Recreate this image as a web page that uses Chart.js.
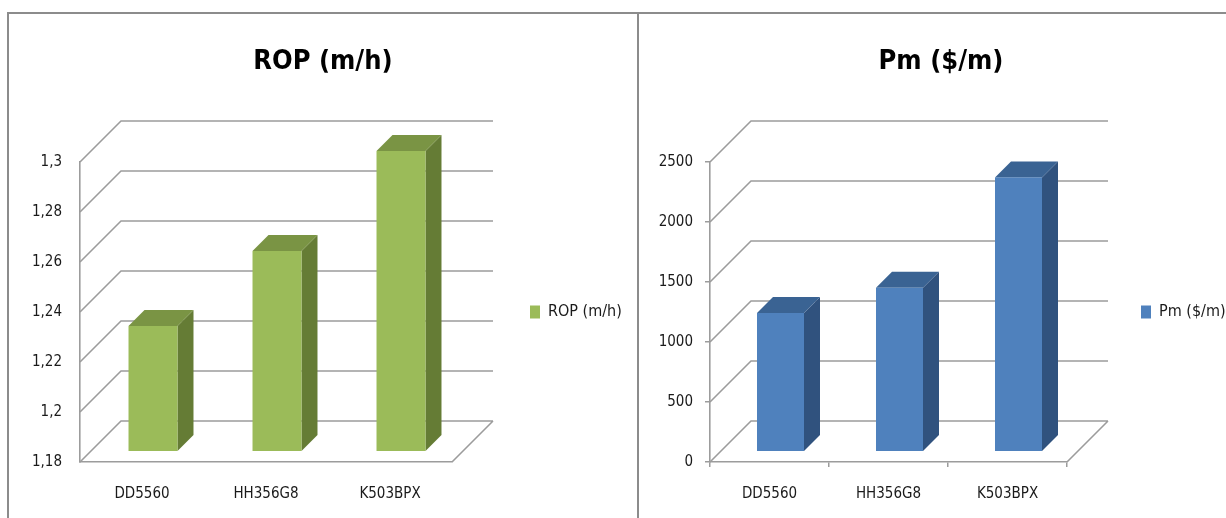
<!DOCTYPE html>
<html>
<head>
<meta charset="utf-8">
<script src="https://cdn.jsdelivr.net/npm/chart.js@4.4.1/dist/chart.umd.min.js"></script>
<style>
  html, body { margin: 0; padding: 0; background: #fff; overflow: hidden; width: 1226px; height: 518px; }
  .panel { position: absolute; top: 12px; border-top: 2px solid #8c8c8c; border-left: 2px solid #8c8c8c; }
  #p1 { left: 7px; width: 628px; height: 504px; }
  #p2 { left: 637px; width: 604px; height: 504px; }
  canvas { display: block; }
</style>
</head>
<body>
<div class="panel" id="p1"><canvas id="ropChart" width="628" height="504"></canvas></div>
<div class="panel" id="p2"><canvas id="pmChart" width="604" height="504"></canvas></div>
<script>
// Bit models compared in both charts
const categories = ['DD5560', 'HH356G8', 'K503BPX'];

// Rate of penetration, m/h
const ropValues = [1.23, 1.26, 1.30];
const ropTickValues = [1.18, 1.20, 1.22, 1.24, 1.26, 1.28, 1.30];
const ropTickLabels = ['1,18', '1,2', '1,22', '1,24', '1,26', '1,28', '1,3'];

// Cost per metre, $/m
const pmValues = [1150, 1360, 2280];
const pmTickValues = [0, 500, 1000, 1500, 2000, 2500];
const pmTickLabels = ['0', '500', '1000', '1500', '2000', '2500'];

const FONT = "'Liberation Sans Narrow', 'DejaVu Sans Condensed', 'Liberation Sans', sans-serif";
const TEXT = '#1a1a1a';
const LINE = '#9c9c9c';

// Oblique depth of the plot box and of the bars inside it (pixels)
const WALL_DEPTH = 41;
const BAR_FRONT = 11;
const BAR_BACK = 27;

// Keeps the legend column at a fixed width so the plot box does not move
const fixedLegend = {
  id: 'fixedLegend',
  afterInit(chart, args, opts) {
    const lg = chart.legend;
    if (!lg) return;
    const fit = lg.fit.bind(lg);
    lg.fit = function () { fit(); this.width = opts.width; };
  }
};

// Draws back wall, side wall, floor and the bars as boxes, in Excel-like 3D
const box3d = {
  id: 'box3d',
  beforeDatasetsDraw(chart, args, opts) {
    const { ctx, chartArea: a, scales: { y } } = chart;
    const d = WALL_DEPTH;
    ctx.save();
    ctx.strokeStyle = opts.lineColor;
    ctx.lineWidth = opts.lineWidth;
    ctx.beginPath();
    y.ticks.forEach(t => {
      const py = y.getPixelForValue(t.value);
      ctx.moveTo(a.left, py);
      ctx.lineTo(a.left + d, py - d);
      ctx.lineTo(a.right + d, py - d);
    });
    ctx.moveTo(a.right, a.bottom);
    ctx.lineTo(a.right + d, a.bottom - d);
    ctx.stroke();

    const poly = pts => {
      ctx.beginPath();
      ctx.moveTo(pts[0][0], pts[0][1]);
      for (let k = 1; k < pts.length; k++) ctx.lineTo(pts[k][0], pts[k][1]);
      ctx.closePath();
      ctx.fill();
    };

    const ds = chart.data.datasets[0];
    const meta = chart.getDatasetMeta(0);
    const dd = BAR_BACK - BAR_FRONT;
    meta.data.forEach((bar, i) => {
      const w = bar.width;
      const x1 = bar.x - w / 2 + BAR_FRONT;
      const x2 = x1 + w;
      const top = y.getPixelForValue(ds.data[i]) - BAR_FRONT;
      const bottom = y.bottom - BAR_FRONT;
      ctx.fillStyle = opts.sideColor;
      poly([[x2, top], [x2 + dd, top - dd], [x2 + dd, bottom - dd], [x2, bottom]]);
      ctx.fillStyle = opts.topColor;
      poly([[x1, top], [x2, top], [x2 + dd, top - dd], [x1 + dd, top - dd]]);
      ctx.fillStyle = ds.backgroundColor;
      ctx.fillRect(x1, top, w, bottom - top);
    });
    ctx.restore();
    return false;
  }
};

function makeChart(id, cfg) {
  const tickFont = { family: FONT, size: 15 };
  return new Chart(document.getElementById(id), {
    type: 'bar',
    data: {
      labels: categories,
      datasets: [{
        label: cfg.title,
        data: cfg.values,
        backgroundColor: cfg.front,
        borderWidth: 0,
        categoryPercentage: 1,
        barPercentage: 0.395
      }]
    },
    options: {
      responsive: false,
      animation: false,
      devicePixelRatio: 1,
      events: [],
      layout: { padding: 0 },
      scales: {
        x: {
          type: 'category',
          offset: true,
          grid: { display: cfg.ticks, drawOnChartArea: false, drawTicks: cfg.ticks, tickLength: 5, color: LINE, lineWidth: 1.5, offset: true },
          border: { display: true, color: LINE, width: 1.6 },
          ticks: { font: tickFont, color: TEXT, padding: cfg.ticks ? 18 : 23, maxRotation: 0 },
          afterFit(s) { s.height = 56; }
        },
        y: {
          min: cfg.tickValues[0],
          max: cfg.tickValues[cfg.tickValues.length - 1],
          afterBuildTicks(s) { s.ticks = cfg.tickValues.map(v => ({ value: v })); },
          grid: { display: cfg.ticks, drawOnChartArea: false, drawTicks: cfg.ticks, tickLength: 5, color: LINE, lineWidth: 1.5 },
          border: { display: true, color: LINE, width: 1.6 },
          ticks: {
            font: tickFont, color: TEXT, padding: cfg.ticks ? 12 : 18,
            callback: (v, i) => cfg.tickLabels[i]
          },
          afterFit(s) { s.width = cfg.axisWidth; }
        }
      },
      plugins: {
        title: {
          display: true,
          text: cfg.title,
          color: '#000',
          font: { family: FONT, size: 27, weight: 'bold', lineHeight: 1.2 },
          padding: { top: 32, bottom: 83.6 }
        },
        legend: {
          position: 'right',
          fullSize: false,
          labels: { boxWidth: 10, boxHeight: 13, padding: cfg.legendGap, font: { family: FONT, size: 16 }, color: TEXT }
        },
        fixedLegend: { width: cfg.legendWidth },
        tooltip: { enabled: false },
        box3d: { topColor: cfg.top, sideColor: cfg.side, lineColor: LINE, lineWidth: 1.6 }
      }
    },
    plugins: [fixedLegend, box3d]
  });
}

makeChart('ropChart', {
  title: 'ROP (m/h)',
  values: ropValues,
  tickValues: ropTickValues,
  tickLabels: ropTickLabels,
  front: '#9bbb59', top: '#7a9444', side: '#657c35',
  ticks: false,
  axisWidth: 71,
  legendWidth: 185,
  legendGap: 78
});

makeChart('pmChart', {
  title: 'Pm ($/m)',
  values: pmValues,
  tickValues: pmTickValues,
  tickLabels: pmTickLabels,
  front: '#4f81bd', top: '#3a6393', side: '#30527e',
  ticks: true,
  axisWidth: 71,
  legendWidth: 176,
  legendGap: 74
});
</script>
</body>
</html>
